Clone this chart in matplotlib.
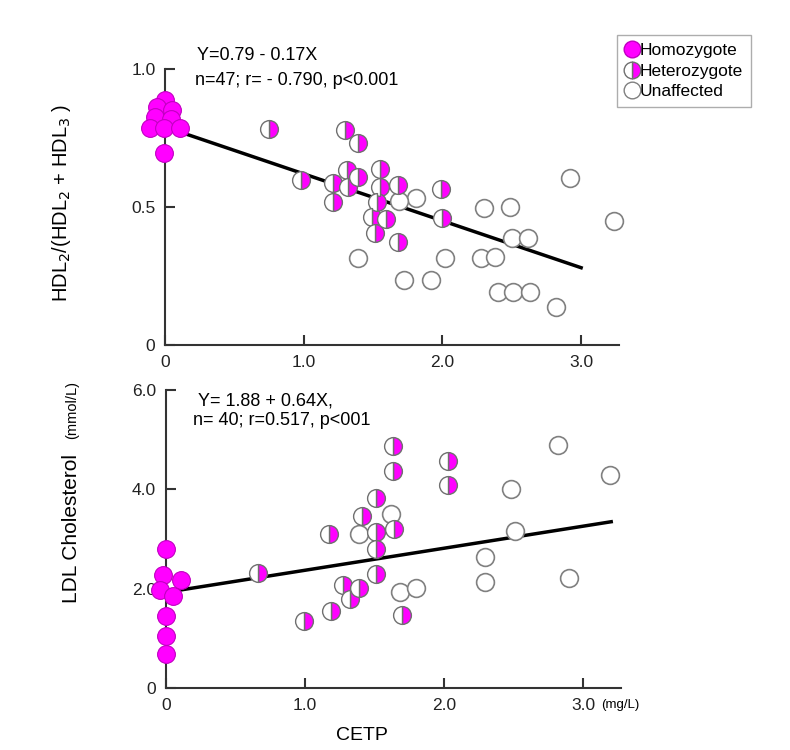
import matplotlib
matplotlib.use('Agg')
import matplotlib.pyplot as plt
from matplotlib.lines import Line2D

plt.rcParams['font.family'] = ['Liberation Sans', 'DejaVu Sans']

MAG = '#ff00ff'

# top panel: HDL2/(HDL2+HDL3) vs CETP
top_homo_x = [0.00, -0.06, 0.05, -0.07, 0.04, -0.11, -0.01, 0.11, -0.01]
top_homo_y = [0.888, 0.863, 0.851, 0.827, 0.820, 0.785, 0.785, 0.785, 0.695]
top_het_x = [0.75, 1.30, 1.39, 1.31, 1.39, 1.55, 1.55, 1.68, 0.98, 1.21,
             1.32, 1.21, 1.53, 1.49, 1.59, 1.51, 1.68, 1.99, 2.00]
top_het_y = [0.781, 0.779, 0.731, 0.634, 0.610, 0.636, 0.571, 0.580, 0.598, 0.586,
             0.571, 0.519, 0.519, 0.465, 0.455, 0.405, 0.374, 0.567, 0.459]
top_un_x = [1.81, 1.69, 2.92, 3.24, 2.30, 2.49, 2.50, 2.62, 1.39, 2.02,
            2.28, 2.38, 1.72, 1.92, 2.40, 2.51, 2.63, 2.82]
top_un_y = [0.531, 0.523, 0.606, 0.450, 0.495, 0.501, 0.386, 0.386, 0.314, 0.314,
            0.314, 0.320, 0.236, 0.236, 0.193, 0.193, 0.193, 0.139]
top_fit = (0.79, -0.17)
top_fit_x = [0.1, 3.0]

# bottom panel: LDL cholesterol vs CETP
bot_homo_x = [0.00, -0.02, 0.11, -0.04, 0.05, 0.00, 0.00, 0.00]
bot_homo_y = [2.81, 2.27, 2.17, 1.97, 1.85, 1.45, 1.05, 0.68]
bot_het_x = [0.66, 0.99, 1.17, 1.19, 1.27, 1.32, 1.39, 1.41, 1.51, 1.51,
             1.51, 1.51, 1.63, 1.63, 1.64, 1.70, 2.03, 2.03]
bot_het_y = [2.32, 1.35, 3.10, 1.56, 2.07, 1.79, 2.01, 3.46, 3.82, 3.14,
             2.81, 2.29, 4.87, 4.37, 3.21, 1.47, 4.57, 4.10]
bot_un_x = [1.39, 1.62, 1.68, 1.80, 2.82, 3.19, 2.48, 2.51, 2.29, 2.29, 2.90]
bot_un_y = [3.10, 3.51, 1.94, 2.01, 4.90, 4.29, 4.00, 3.16, 2.64, 2.14, 2.21]
bot_fit_x = [0.05, 3.2]
bot_fit_y = [1.95, 3.35]

MS = 12.8


def draw_points(ax, hx, hy, ex, ey, ux, uy):
    ax.plot(ux, uy, 'o', ms=MS, mfc='white', mec='#808080', mew=1.2, clip_on=False, zorder=3)
    ax.plot(ex, ey, 'o', ms=MS, fillstyle='right', mfc=MAG, mfcalt='white',
            mec='#707070', mew=1.0, clip_on=False, zorder=4)
    ax.plot(hx, hy, 'o', ms=MS, mfc=MAG, mec='#c000c0', mew=0.8, clip_on=False, zorder=5)


def style_axes(ax):
    for s in ['top', 'right']:
        ax.spines[s].set_visible(False)
    for s in ['left', 'bottom']:
        ax.spines[s].set_linewidth(1.5)
        ax.spines[s].set_color('#333333')
    ax.tick_params(direction='in', length=7, width=1.5, labelsize=12.5, color='#333333',
                   labelcolor='#222222', pad=7)


fig = plt.figure(figsize=(7.9, 7.5), dpi=100)

ax1 = fig.add_axes([0.209, 0.54, 0.574, 0.368])
draw_points(ax1, top_homo_x, top_homo_y, top_het_x, top_het_y, top_un_x, top_un_y)
ax1.plot(top_fit_x, [top_fit[0] + top_fit[1] * x for x in top_fit_x], color='black', lw=2.5, zorder=2)
ax1.set_xlim(0, 3.27)
ax1.set_ylim(0, 1.0)
ax1.set_xticks([0, 1, 2, 3])
ax1.set_xticklabels(['0', '1.0', '2.0', '3.0'])
ax1.set_yticks([0, 0.5, 1.0])
ax1.set_yticklabels(['0', '0.5', '1.0'])
style_axes(ax1)
ax1.set_ylabel('HDL$_2$/(HDL$_2$ + HDL$_3$ )', fontsize=14.5)
ax1.yaxis.set_label_coords(-0.203, 0.515)
ax1.text(0.07, 1.048, 'Y=0.79 - 0.17X', transform=ax1.transAxes, fontsize=13, va='center')
ax1.text(0.067, 0.958, 'n=47; r= - 0.790, p<0.001', transform=ax1.transAxes, fontsize=13, va='center')

handles = [
    Line2D([], [], ls='none', marker='o', ms=12, mfc=MAG, mec='#c000c0'),
    Line2D([], [], ls='none', marker='o', ms=12, fillstyle='right', mfc=MAG, mfcalt='white', mec='#707070'),
    Line2D([], [], ls='none', marker='o', ms=12, mfc='white', mec='#808080'),
]
leg = fig.legend(handles, ['Homozygote', 'Heterozygote', 'Unaffected'],
                 loc='upper left', bbox_to_anchor=(0.781, 0.953), fontsize=12.5,
                 handlelength=0.8, handletextpad=0.05, labelspacing=0.3,
                 borderpad=0.45, borderaxespad=0, fancybox=False, edgecolor='#999999')
leg.get_frame().set_linewidth(1.0)

ax2 = fig.add_axes([0.21, 0.0827, 0.576, 0.397])
draw_points(ax2, bot_homo_x, bot_homo_y, bot_het_x, bot_het_y, bot_un_x, bot_un_y)
ax2.plot(bot_fit_x, bot_fit_y, color='black', lw=2.5, zorder=2)
ax2.set_xlim(0, 3.27)
ax2.set_ylim(0, 6.0)
ax2.set_xticks([0, 1, 2, 3])
ax2.set_xticklabels(['0', '1.0', '2.0', '3.0'])
ax2.set_yticks([0, 2, 4, 6])
ax2.set_yticklabels(['0', '2.0', '4.0', '6.0'])
style_axes(ax2)
ax2.text(3.13, -0.35, '(mg/L)', fontsize=9.5, va='center', ha='left')
ax2.text(-0.675, 3.22, 'LDL Cholesterol', rotation=90, fontsize=15, ha='center', va='center')
ax2.text(-0.675, 5.6, '(mmol/L)', rotation=90, fontsize=10.5, ha='center', va='center')
ax2.text(0.07, 0.964, 'Y= 1.88 + 0.64X,', transform=ax2.transAxes, fontsize=13, va='center')
ax2.text(0.06, 0.897, 'n= 40; r=0.517, p<001', transform=ax2.transAxes, fontsize=13, va='center')
fig.text(362 / 790, 1 - 735 / 750, 'CETP', fontsize=14, ha='center', va='center')

fig.savefig('out.png', dpi=100)
